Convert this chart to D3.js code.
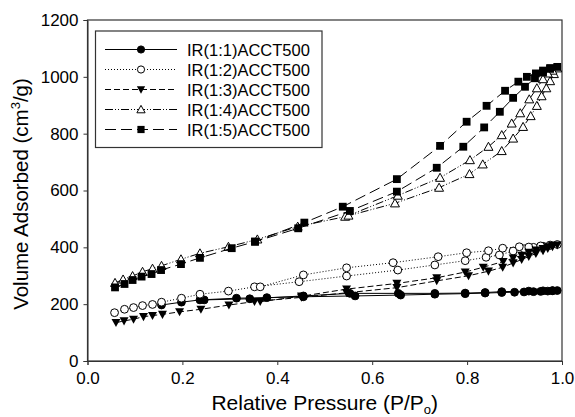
<!DOCTYPE html>
<meta charset="utf-8">
<style>
body{margin:0;background:#fff;}
text{font-family:"Liberation Sans",Arial,sans-serif;font-size:16px;fill:#000;}
.axis path,.axis line{stroke:#333;}
.frame{fill:none;stroke:#333;stroke-width:1.2px;}
.series path.line{fill:none;stroke:#000;stroke-width:1px;}
.title{font-size:21px;}
</style>
<body>
<script src="https://d3js.org/d3.v7.min.js"></script>
<script>

// series: adsorption branch then desorption branch
var p1=[0.156,0.198,0.237,0.314,0.378,0.455,0.564,0.66,0.732,0.796,0.838,0.873,0.9,0.92,0.94,0.955,0.97,0.98,0.99,
        0.98,0.96,0.93,0.873,0.838,0.796,0.732,0.655,0.553,0.455,0.342,0.246];
var v1=[197,207,215,221,223,226,229,232,235,237,239,241,242,243,244,245,246,247,248,
        248,247,246,244,241,239,238,238,238,229,219,215];

var p2=[0.057,0.078,0.097,0.116,0.137,0.156,0.198,0.237,0.297,0.352,0.446,0.546,0.654,0.732,0.796,0.84,0.868,0.897,0.92,0.94,0.96,0.975,0.99,
        0.975,0.955,0.93,0.91,0.875,0.845,0.799,0.739,0.644,0.546,0.455,0.364];
var v2=[170,182,188,195,199,207,221,235,246,261,279,299,320,338,353,365,373,387,395,400,404,407,410,
        408,405,401,402,397,388,381,367,346,328,303,261];

var p3=[0.06,0.077,0.097,0.118,0.137,0.158,0.194,0.239,0.298,0.352,0.451,0.546,0.652,0.736,0.803,0.845,0.875,0.897,0.915,0.93,0.945,0.96,0.97,0.98,0.99,
        0.98,0.97,0.96,0.945,0.93,0.915,0.897,0.876,0.834,0.796,0.736,0.652,0.546,0.451,0.364];
var v3=[135,141,147,156,160,164,173,182,197,209,224,240,258,282,300,316,330,345,357,368,378,388,396,402,408,
        406,402,396,390,382,372,362,350,330,313,293,273,253,228,209];

var p4=[0.058,0.075,0.095,0.116,0.137,0.156,0.197,0.237,0.297,0.358,0.443,0.543,0.648,0.741,0.805,0.833,0.873,0.897,0.918,0.934,0.947,0.957,0.967,0.975,0.983,0.99,
        0.98,0.97,0.96,0.947,0.931,0.912,0.894,0.873,0.845,0.806,0.743,0.654,0.55];
var v4=[275,287,299,314,325,335,358,379,402,428,473,508,555,610,658,692,739,783,824,862,898,932,960,985,1010,1030,
        1022,1012,992,960,921,872,836,795,754,707,645,582,512];

var p5=[0.058,0.078,0.095,0.114,0.135,0.155,0.197,0.237,0.304,0.353,0.444,0.553,0.652,0.736,0.792,0.836,0.869,0.897,0.922,0.943,0.96,0.975,0.99,
        0.975,0.96,0.945,0.926,0.908,0.88,0.841,0.799,0.743,0.652,0.538,0.457,0.353];
var v5=[259,271,285,297,306,320,341,363,397,420,467,528,596,680,754,822,877,926,965,995,1015,1028,1035,
        1031,1022,1012,1000,983,951,898,842,757,640,543,487,420];

var names=["IR(1:1)ACCT500","IR(1:2)ACCT500","IR(1:3)ACCT500","IR(1:4)ACCT500","IR(1:5)ACCT500"];
var xTicks=[0,0.2,0.4,0.6,0.8,1.0];
var yTicks=[0,200,400,600,800,1000,1200];

var dashes=["none","1,2","6,3","8,2,1,2,1,2","11,5"];
var marks=["circleF","circleO","triDown","triUp","square"];
var P=[p1,p2,p3,p4,p5], V=[v1,v2,v3,v4,v5];

var W=575,H=417;
var m={left:87.5,right:13,top:20,bottom:56};
var svg=d3.select("body").append("svg").attr("width",W).attr("height",H);

var x=d3.scaleLinear().domain([0,1]).range([m.left,W-m.right]);
var y=d3.scaleLinear().domain([0,1200]).range([H-m.bottom,m.top]);

function tickText(g){
	g.selectAll("text").style("font-size","17px").style("font-family","'Liberation Sans',Arial,sans-serif").attr("fill","#000");
}

svg.append("g").attr("class","axis")
	.attr("transform","translate(0,"+(H-m.bottom)+")")
	.call(d3.axisBottom(x).tickValues(xTicks).tickFormat(d3.format(".1f")).tickSizeOuter(0).tickSize(4).tickPadding(7))
	.call(tickText);

svg.append("g").attr("class","axis")
	.attr("transform","translate("+m.left+",0)")
	.call(d3.axisLeft(y).tickValues(yTicks).tickFormat(d3.format("d")).tickSizeOuter(0).tickSize(4).tickPadding(5))
	.call(tickText);

svg.append("rect").attr("class","frame")
	.attr("x",m.left).attr("y",m.top)
	.attr("width",W-m.right-m.left).attr("height",H-m.bottom-m.top);

function drawMark(sel,type,cx,cy,s){
	if(type=="circleF"||type=="circleO"){
		sel.append("circle").attr("cx",cx).attr("cy",cy).attr("r",s)
			.attr("fill",type=="circleF"?"#000":"#fff").attr("stroke","#000").attr("stroke-width",1);
	}else if(type=="square"){
		sel.append("rect").attr("x",cx-s).attr("y",cy-s).attr("width",2*s).attr("height",2*s)
			.attr("fill","#000");
	}else if(type=="triDown"){
		var h=s*1.15;
		sel.append("path").attr("d","M"+(cx-h)+","+(cy-h*0.8)+"L"+(cx+h)+","+(cy-h*0.8)+"L"+cx+","+(cy+h)+"Z")
			.attr("fill","#000");
	}else{
		var h=s*1.15;
		sel.append("path").attr("d","M"+(cx-h)+","+(cy+h*0.8)+"L"+(cx+h)+","+(cy+h*0.8)+"L"+cx+","+(cy-h)+"Z")
			.attr("fill","#fff").attr("stroke","#000").attr("stroke-width",1);
	}
}

var line=d3.line().x(d=>x(d[0])).y(d=>y(d[1]));

P.forEach(function(px,i){
	var pts=px.map((p,j)=>[p,V[i][j]]);
	var g=svg.append("g").attr("class","series");
	g.append("path").attr("class","line").attr("d",line(pts)).attr("stroke-dasharray",dashes[i]);
	pts.forEach(d=>drawMark(g,marks[i],x(d[0]),y(d[1]),3.9));
});

// legend
var lg=svg.append("g");
lg.append("rect").attr("x",95.5).attr("y",31).attr("width",226.5).attr("height",116.5)
	.attr("fill","#fff").attr("stroke","#333").attr("stroke-width",1.2);
names.forEach(function(n,i){
	var yy=49.5+i*20;
	lg.append("line").attr("x1",105).attr("x2",177).attr("y1",yy).attr("y2",yy)
		.attr("stroke","#000").attr("stroke-dasharray",dashes[i]);
	drawMark(lg,marks[i],141,yy,3.6);
	lg.append("text").attr("x",187).attr("y",yy+6).style("font-size","16.5px").text(n);
});

// axis titles
var xt=svg.append("text").attr("class","title").attr("x",(m.left+W-m.right)/2).attr("y",410).attr("text-anchor","middle");
xt.append("tspan").text("Relative Pressure (P/P");
xt.append("tspan").attr("dy",3.5).style("font-size","13px").text("o");
xt.append("tspan").attr("dy",-3.5).text(")");

var yt=svg.append("text").attr("class","title").style("font-size","20.5px")
	.attr("transform","translate(27.5,194) rotate(-90)").attr("text-anchor","middle");
yt.append("tspan").text("Volume Adsorbed (cm");
yt.append("tspan").attr("dy",-8).style("font-size","13px").text("3");
yt.append("tspan").attr("dy",8).text("/g)");

</script>
</body>
